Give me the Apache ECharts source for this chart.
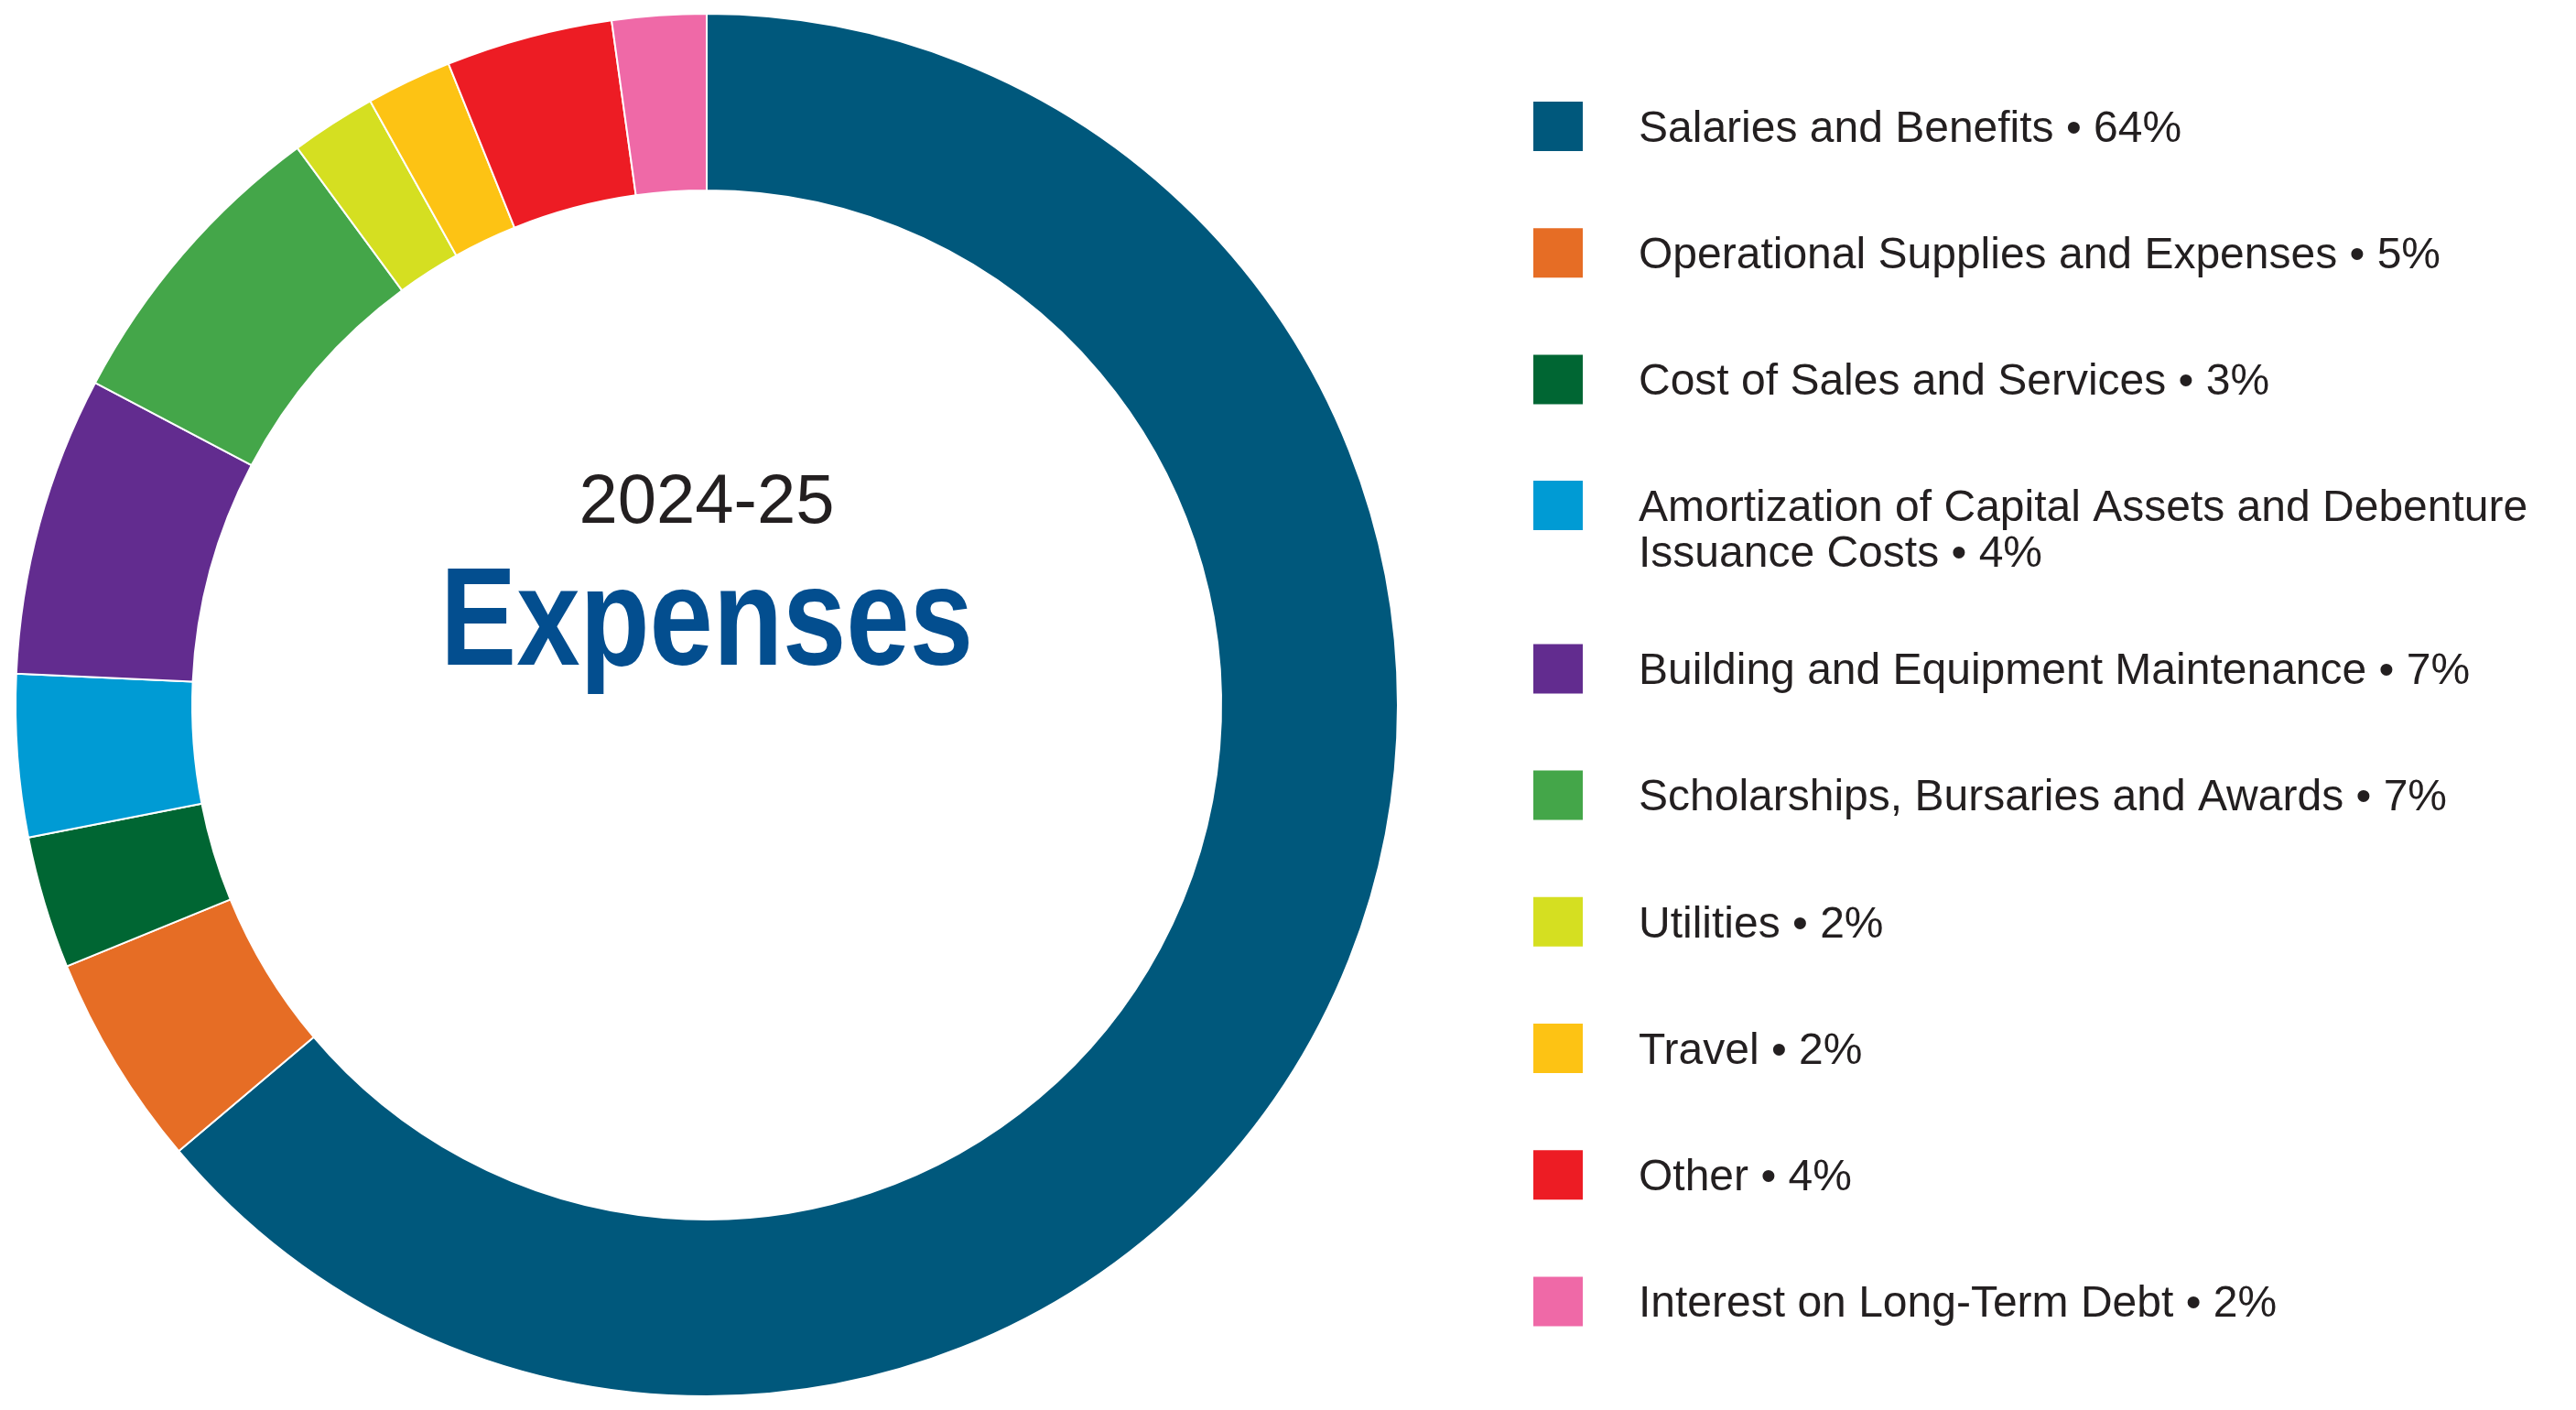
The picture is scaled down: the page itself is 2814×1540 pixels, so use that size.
<!DOCTYPE html>
<html>
<head>
<meta charset="utf-8">
<title>2024-25 Expenses</title>
<script src="https://cdn.jsdelivr.net/npm/echarts@6/dist/echarts.min.js"></script>
<style>
  html, body { margin: 0; padding: 0; background: #fff; }
  #chart { width: 2814px; height: 1540px; }
</style>
</head>
<body>
<div id="chart"></div>
<script>
// expense categories, in drawing order (clockwise from 12 o'clock)
const categories = [
  'Salaries and Benefits',
  'Operational Supplies and Expenses',
  'Cost of Sales and Services',
  'Amortization of Capital Assets and Debenture Issuance Costs',
  'Building and Equipment Maintenance',
  'Scholarships, Bursaries and Awards',
  'Utilities',
  'Travel',
  'Other',
  'Interest on Long-Term Debt'
];
// share of total expenses, %
const shares = [63.9, 5.0, 3.1, 3.8, 7.0, 7.2, 2.0, 2.0, 3.9, 2.2];
const colors = [
  '#00587c', '#e66d25', '#006633', '#009bd4', '#622c8f',
  '#44a649', '#d5df21', '#fdc314', '#ed1c24', '#ef69a7'
];
const yearText = '2024-25';
const titleText = 'Expenses';

const FONT = '"Liberation Sans", Arial, sans-serif';
const TEXT_COLOR = '#231f20';
// square marker with an empty strip under it, so the text sits on the square's middle
const MARKER = 'path://M0 0H54V54H0ZM0 61L54 61';

const chart = echarts.init(document.getElementById('chart'));

function legendLabel(name) {
  const i = categories.indexOf(name);
  let label = name + ' \u2022 ' + Math.round(shares[i]) + '%';
  // long item wraps onto a second line, marker stays on the first line
  if (label.indexOf(' Issuance') > -1) {
    label = '\n' + label.replace(' Issuance', '\nIssuance');
  }
  return label;
}

function makeLegend(names, top, gap) {
  return {
    orient: 'vertical',
    left: 1675,
    top: top,
    padding: 0,
    itemGap: gap,
    itemWidth: 54,
    itemHeight: 61,
    icon: MARKER,
    selectedMode: false,
    itemStyle: { borderWidth: 0 },
    data: names,
    formatter: legendLabel,
    textStyle: {
      color: TEXT_COLOR,
      fontFamily: FONT,
      fontSize: 48,
      lineHeight: 50,
      padding: [0, 0, 0, 56]
    }
  };
}

const option = {
  backgroundColor: '#fff',
  animation: false,
  color: colors,
  legend: [
    makeLegend(categories.slice(0, 3), 111, 77.2),
    makeLegend(categories.slice(3, 4), 480.5, 0),
    makeLegend(categories.slice(4), 703.4, 77.2)
  ],
  graphic: [
    {
      type: 'text',
      x: 772,
      y: 550,
      style: {
        text: yearText,
        fill: TEXT_COLOR,
        fontFamily: FONT,
        fontSize: 76,
        align: 'center',
        verticalAlign: 'middle'
      }
    },
    {
      type: 'text',
      x: 772,
      y: 684,
      scaleX: 0.82,
      style: {
        text: titleText,
        fill: '#034e8f',
        fontFamily: FONT,
        fontWeight: 'bold',
        fontSize: 152,
        align: 'center',
        verticalAlign: 'middle'
      }
    }
  ],
  series: [
    {
      name: 'Expenses',
      type: 'pie',
      center: [772, 770],
      radius: [562, 755],
      startAngle: 90,
      clockwise: true,
      avoidLabelOverlap: false,
      label: { show: false },
      labelLine: { show: false },
      emphasis: { disabled: true },
      itemStyle: {
        borderColor: '#fff',
        borderWidth: 2
      },
      data: categories.map((name, i) => ({ name: name, value: shares[i] }))
    }
  ]
};

chart.setOption(option);
</script>
</body>
</html>
